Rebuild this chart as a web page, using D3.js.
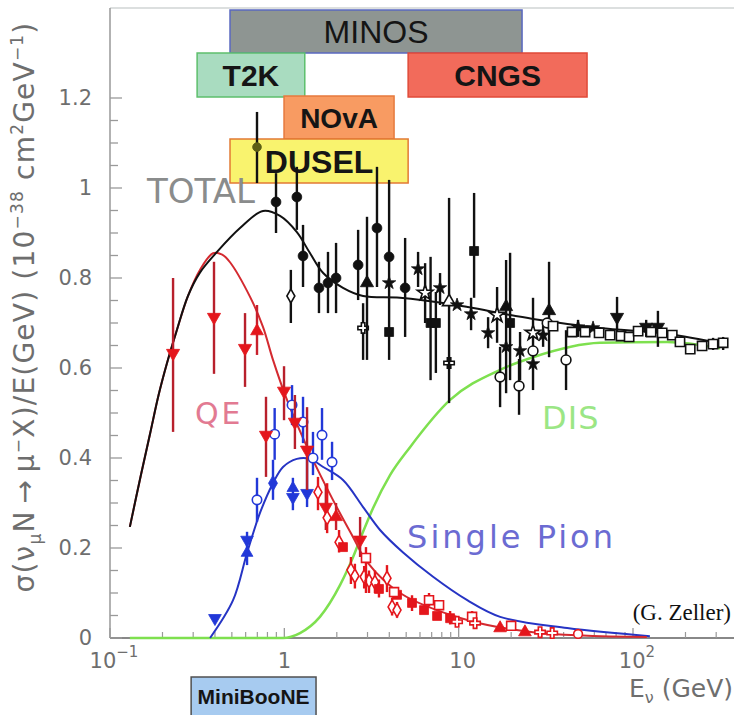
<!DOCTYPE html>
<html>
<head>
<meta charset="utf-8">
<script src="https://cdn.jsdelivr.net/npm/d3@7/dist/d3.min.js"></script>
<style>
  html, body { margin: 0; padding: 0; background: #fff; }
  svg { display: block; }
</style>
</head>
<body>
<svg id="chart" width="734" height="715"></svg>
<script>
// ━━━━━━━━━━━━━━━━━━━━━━━━━━━━━━━━━━━━━━━━━━━━━━━━━━━━━━━━━━━━━━━━━━━━━━━━━━━━━━
// Data: nu_mu CC cross section / E  (E in GeV, sigma in 1e-38 cm2/GeV) ////////
// points are [E, sigma, errLow, errHigh]
// ━━━━━━━━━━━━━━━━━━━━━━━━━━━━━━━━━━━━━━━━━━━━━━━━━━━━━━━━━━━━━━━━━━━━━━━━━━━━━━

const totalCurve = [[0.13,0.247],[0.15,0.36],[0.17,0.455],[0.19,0.54],[0.212,0.61],[0.24,0.68],
  [0.28,0.76],[0.328,0.812],[0.411,0.858],[0.557,0.911],[0.755,0.949],[0.945,0.938],[1.18,0.902],
  [1.40,0.856],[1.67,0.811],[2.17,0.778],[2.83,0.760],[4.61,0.756],[8.93,0.742],[26.7,0.709],
  [64.8,0.689],[157,0.676],[329,0.653]];

const qeCurve = [[0.13,0.247],[0.15,0.36],[0.17,0.455],[0.19,0.54],[0.212,0.61],[0.24,0.68],
  [0.28,0.76],[0.328,0.818],[0.390,0.855],[0.44,0.852],[0.488,0.835],[0.636,0.758],[0.755,0.691],
  [0.861,0.618],[1.036,0.529],[1.40,0.411],[1.90,0.307],[2.48,0.224],[2.98,0.169],[4.61,0.10],
  [11.2,0.040],[26.7,0.013],[120,0.002]];

const pionCurve = [[0.375,0],[0.508,0.084],[0.611,0.189],[0.725,0.278],[0.861,0.344],[0.983,0.380],
  [1.18,0.398],[1.40,0.398],[1.67,0.380],[2.17,0.351],[2.83,0.291],[3.54,0.24],[4.80,0.19],
  [7.13,0.136],[11.2,0.084],[17.3,0.047],[41.9,0.022],[125,0.004]];

const disCurve = [[0.13,0],[0.983,0],[1.23,0.011],[1.60,0.047],[2.09,0.118],[2.48,0.180],[2.83,0.236],
  [3.23,0.289],[4.04,0.362],[5.26,0.424],[8.93,0.529],[17.28,0.596],[26.7,0.624],[64.8,0.656],
  [157,0.658],[316,0.644]];

// total (black)
const totOlive = [[0.697,1.091,1.011,1.169]];
const totCircles = [[0.896,0.969,0.900,1.033],[1.18,0.980,0.907,1.047],[1.28,0.849,0.780,0.918],
  [1.58,0.778,0.722,0.836],[1.78,0.789,0.722,0.858],[1.98,0.800,0.722,0.878],[2.65,0.829,0.751,0.907],
  [3.40,0.911,0.780,1.047],[3.99,0.847,0.618,1.018],[4.93,0.778,0.669,0.889]];
const totDiamondsOpen = [[1.09,0.760,0.700,0.818]];
const totCrossOpen = [[2.83,0.689,0.618,0.744],[8.81,0.611]];
const totTriUp = [[2.98,0.789,0.618,0.936],[18.71,0.736,0.544,0.840],[33.0,0.727,0.624,0.836]];
const totTriOpen = [[8.81,0.747,0.522,0.978]];
const totSquares = [[3.99,0.680],[6.9,0.700,0.573,0.847],[7.4,0.700,0.589,0.769],[12.26,0.860,0.756,0.989],
  [19.72,0.700,0.573,0.856]];
const totStars = [[3.99,0.789],[5.85,0.820,0.780,0.858],[7.82,0.778,0.740,0.811],[9.79,0.740],
  [11.78,0.720,0.684,0.756],[14.75,0.678,0.644,0.713],[18.71,0.647],[22.5,0.638,0.573,0.680],
  [26.7,0.609],[30.5,0.673,0.647,0.700],[48.4,0.691,0.669,0.707],[59.0,0.689]];
const totStarsOpen = [[6.42,0.767,0.700,0.833],[16.61,0.718,0.656,0.780],[26.7,0.678,0.551,0.756]];
const totCirclesOpen = [[17.28,0.58,0.513,0.647],[22.2,0.56,0.496,0.62],[41.3,0.618,0.551,0.684],
  [26.7,0.638],[32.2,0.700]];
const totTriDown = [[81.0,0.713,0.662,0.758],[119,0.691,0.669,0.707],[139,0.691,0.647,0.727]];
const totSquaresOpen = [[34.8,0.693],[44.7,0.680],[53.1,0.680],[63.9,0.678],[73.9,0.673],[85.4,0.671],
  [95.0,0.669],[107,0.682],[127,0.680],[147,0.678],[168,0.673],[186,0.658],[213,0.642],[249,0.649],
  [288,0.653,0.640,0.667],[329,0.656,0.640,0.669]];

// quasi-elastic (red)
const qeTriDown = [[0.230,0.633,0.458,0.800],[0.395,0.713,0.587,0.836],[0.595,0.644,0.558,0.722],
  [0.996,0.549,0.484,0.604],[0.785,0.451,0.358,0.536],[1.15,0.48,0.42,0.54],[1.35,0.418,0.329,0.513],
  [1.73,0.291,0.24,0.34],[2.72,0.218,0.18,0.269]];
const qeTriUp = [[0.697,0.682,0.629,0.740],[1.98,0.269,0.24,0.30],[17.28,0.022],[24.0,0.013]];
const qeDiamondsOpen = [[1.56,0.324,0.284,0.358],[1.76,0.267,0.233,0.344],[2.06,0.213,0.19,0.24],
  [2.41,0.151,0.12,0.18],[2.54,0.138,0.11,0.165],[2.87,0.136,0.11,0.16],[3.06,0.127,0.10,0.15],
  [3.31,0.124,0.10,0.15],[3.88,0.133,0.102,0.162],[4.15,0.069,0.05,0.09],[4.43,0.062,0.045,0.08]];
const qeSquares = [[2.17,0.202],[3.49,0.109,0.09,0.13],[4.43,0.096],[5.40,0.078,0.06,0.095],[6.33,0.062],
  [7.52,0.049],[8.93,0.044,0.03,0.06]];
const qeSquaresOpen = [[2.94,0.178,0.10,0.202],[4.26,0.102],[6.76,0.084,0.07,0.10],[7.72,0.073],
  [11.94,0.047,0.035,0.06],[20.0,0.027]];
const qeCrossOpen = [[9.79,0.036],[12.42,0.033],[29.3,0.013],[34.4,0.011]];
const qeCirclesOpen = [[48.4,0.009]];

// single pion (blue)
const piTriDown = [[0.400,0.044],[0.611,0.218,0.162,0.236],[1.12,0.313,0.284,0.356],[1.35,0.322,0.291,0.40]];
const piTriUp = [[0.611,0.189],[1.12,0.333]];
const piDiamonds = [[0.861,0.344,0.307,0.396]];
const piCirclesOpen = [[0.697,0.307,0.258,0.356],[0.88,0.453,0.396,0.511],[1.107,0.518,0.473,0.562],
  [1.28,0.48,0.433,0.536],[1.46,0.40,0.362,0.458],[1.645,0.451,0.396,0.511],[1.878,0.391,0.351,0.436]];

// experiments and their energy ranges
const experiments = ['MINOS', 'T2K', 'CNGS', 'NOvA', 'DUSEL', 'MiniBooNE'];
const expLow  = [0.488, 0.316, 5.13, 0.996, 0.488, 0.292];
const expHigh = [23.1, 1.31, 54.5, 4.26, 5.13, 1.52];

const yMajor = [0, 0.2, 0.4, 0.6, 0.8, 1, 1.2];
const yMajorLabels = ['0', '0.2', '0.4', '0.6', '0.8', '1', '1.2'];
const xMajor = [0.1, 1, 10, 100];
const xMajorBase = ['10', '1', '10', '10'];
const xMajorExp = ['\u22121', '', '', '2'];

// ━━━━━━━━━━━━━━━━━━━━━━━━━━━━━━━━━━━━━━━━━━━━━━━━━━━━━━━━━━━━━━━━━━━━━━━━━━━━━━
// Scales ///////////////////////////////////////////////////////////////////////
// ━━━━━━━━━━━━━━━━━━━━━━━━━━━━━━━━━━━━━━━━━━━━━━━━━━━━━━━━━━━━━━━━━━━━━━━━━━━━━━

const svg = d3.select('#chart');
const x = d3.scaleLog().domain([0.1, 100]).range([110, 633]);
const y = d3.scaleLinear().domain([0, 1.2]).range([638, 98]);
const xEnd = 734;
const yTop = y(1.4);
const sans = 'DejaVu Sans, Verdana, sans-serif';
const arial = 'Liberation Sans, Arial, sans-serif';

// ━━━━━━━━━━━━━━━━━━━━━━━━━━━━━━━━━━━━━━━━━━━━━━━━━━━━━━━━━━━━━━━━━━━━━━━━━━━━━━
// Frame and axes ///////////////////////////////////////////////////////////////
// ━━━━━━━━━━━━━━━━━━━━━━━━━━━━━━━━━━━━━━━━━━━━━━━━━━━━━━━━━━━━━━━━━━━━━━━━━━━━━━

svg.append('line').attr('x1', x(0.1)).attr('x2', xEnd).attr('y1', yTop).attr('y2', yTop)
  .attr('stroke', '#d0d4d4').attr('stroke-width', 1.5);
svg.append('line').attr('x1', x(0.1)).attr('x2', x(0.1)).attr('y1', yTop).attr('y2', y(0))
  .attr('stroke', '#999').attr('stroke-width', 1.5);
svg.append('line').attr('x1', x(0.1)).attr('x2', xEnd).attr('y1', y(0)).attr('y2', y(0))
  .attr('stroke', '#888').attr('stroke-width', 2);

const yMinor = d3.range(0, 1.2001, 0.05);
svg.append('g').selectAll('line').data(yMinor).join('line')
  .attr('x1', x(0.1)).attr('x2', d => x(0.1) + (yMajor.some(m => Math.abs(m - d) < 1e-6) ? 12 : 8))
  .attr('y1', d => y(d)).attr('y2', d => y(d))
  .attr('stroke', '#999').attr('stroke-width', 1.3);

svg.append('g').selectAll('text').data(yMajor).join('text')
  .attr('x', x(0.1) - 18).attr('y', d => y(d)).attr('dy', '0.35em')
  .attr('text-anchor', 'end')
  .attr('font-family', sans).attr('font-size', 21).attr('fill', '#6e6e6e')
  .text((d, i) => yMajorLabels[i]);

const xMinor = [];
[-1, 0, 1, 2].forEach(n => d3.range(2, 10).forEach(k => {
  const v = k * Math.pow(10, n);
  if (x(v) < xEnd) xMinor.push(v);
}));
svg.append('g').selectAll('line').data(xMinor).join('line')
  .attr('x1', d => x(d)).attr('x2', d => x(d)).attr('y1', y(0)).attr('y2', y(0) - 6)
  .attr('stroke', '#999').attr('stroke-width', 1.2);
svg.append('g').selectAll('line').data(xMajor).join('line')
  .attr('x1', d => x(d)).attr('x2', d => x(d)).attr('y1', y(0)).attr('y2', y(0) - 10)
  .attr('stroke', '#999').attr('stroke-width', 1.3);

const xLab = svg.append('g').selectAll('text').data(xMajor).join('text')
  .attr('x', d => x(d) + (d === 1 ? 0 : 4)).attr('y', y(0) + 30)
  .attr('text-anchor', 'middle')
  .attr('font-family', sans).attr('font-size', 21).attr('fill', '#6e6e6e');
xLab.append('tspan').text((d, i) => xMajorBase[i]);
xLab.append('tspan').attr('dy', -11).attr('font-size', 15).text((d, i) => xMajorExp[i]);

// axis titles
const xt = svg.append('text').attr('x', xEnd - 1).attr('y', y(0) + 59).attr('text-anchor', 'end')
  .attr('font-family', sans).attr('font-size', 25).attr('fill', '#6e6e6e');
xt.append('tspan').text('E');
xt.append('tspan').attr('dy', 6).attr('font-size', 16).text('\u03bd');
xt.append('tspan').attr('dy', -6).text(' (GeV)');

const yt = svg.append('text').attr('transform', `translate(34, 307) rotate(-90)`)
  .attr('text-anchor', 'middle').attr('letter-spacing', 1.2)
  .attr('font-family', sans).attr('font-size', 28).attr('fill', '#6e6e6e');
[['\u03c3(\u03bd', 0, 28], ['\u03bc', 7, 17], ['N\u2009\u2192\u2009\u03bc', -7, 28], ['\u2212', -10, 17],
 ['X)/E(GeV)  (10', 10, 28], ['\u221238', -11, 17], [' cm', 11, 28], ['2', -11, 17], ['GeV', 11, 28],
 ['\u22121', -11, 17], [')', 11, 28]].forEach(([t, dy, fs]) => {
  yt.append('tspan').attr('dy', dy).attr('font-size', fs).text(t);
});

// ━━━━━━━━━━━━━━━━━━━━━━━━━━━━━━━━━━━━━━━━━━━━━━━━━━━━━━━━━━━━━━━━━━━━━━━━━━━━━━
// Experiment boxes /////////////////////////////////////////////////////////////
// ━━━━━━━━━━━━━━━━━━━━━━━━━━━━━━━━━━━━━━━━━━━━━━━━━━━━━━━━━━━━━━━━━━━━━━━━━━━━━━

const expStyle = {
  'MINOS':     { top: 10,  bottom: 53,  fill: '#8e9592', stroke: '#5a68c0', size: 32, weight: 'normal' },
  'T2K':       { top: 53,  bottom: 97,  fill: '#a9dcc0', stroke: '#5dbf6c', size: 30, weight: 'bold' },
  'CNGS':      { top: 53,  bottom: 97,  fill: '#f26b5b', stroke: '#e04a38', size: 30, weight: 'bold' },
  'NOvA':      { top: 96,  bottom: 139, fill: '#f89b62', stroke: '#e67a3e', size: 28, weight: 'bold' },
  'DUSEL':     { top: 139, bottom: 183, fill: '#f9f36e', stroke: '#e27a34', size: 32, weight: 'bold' },
  'MiniBooNE': { top: 677, bottom: 720, fill: '#a7cbf0', stroke: '#505050', size: 21, weight: 'bold' }
};

const boxes = svg.append('g').selectAll('g').data(experiments).join('g');
boxes.append('rect')
  .attr('x', (d, i) => x(expLow[i])).attr('width', (d, i) => x(expHigh[i]) - x(expLow[i]))
  .attr('y', d => expStyle[d].top).attr('height', d => expStyle[d].bottom - expStyle[d].top)
  .attr('fill', d => expStyle[d].fill).attr('stroke', d => expStyle[d].stroke).attr('stroke-width', 1.5);
boxes.append('text')
  .attr('x', (d, i) => (x(expLow[i]) + x(expHigh[i])) / 2)
  .attr('y', d => d === 'MiniBooNE' ? 696 : (expStyle[d].top + expStyle[d].bottom) / 2)
  .attr('dy', '0.36em').attr('text-anchor', 'middle')
  .attr('font-family', arial).attr('font-size', d => expStyle[d].size)
  .attr('font-weight', d => expStyle[d].weight).attr('fill', '#151515')
  .text(d => d);

// ━━━━━━━━━━━━━━━━━━━━━━━━━━━━━━━━━━━━━━━━━━━━━━━━━━━━━━━━━━━━━━━━━━━━━━━━━━━━━━
// Curves ///////////////////////////////////////////////////////////////////////
// ━━━━━━━━━━━━━━━━━━━━━━━━━━━━━━━━━━━━━━━━━━━━━━━━━━━━━━━━━━━━━━━━━━━━━━━━━━━━━━

const smooth = d3.line().x(d => x(d[0])).y(d => y(d[1])).curve(d3.curveCatmullRom.alpha(0.5));
const mono = d3.line().x(d => x(d[0])).y(d => y(d[1])).curve(d3.curveMonotoneX);
[[disCurve, mono, '#7ee04f', 2.5], [pionCurve, smooth, '#2634c4', 2], [qeCurve, smooth, '#d42a30', 2],
 [totalCurve, smooth, '#111', 2]]
  .forEach(([data, gen, color, w]) => {
    svg.append('path').datum(data).attr('d', gen)
      .attr('fill', 'none').attr('stroke', color).attr('stroke-width', w);
  });

// labels
const labels = [
  { text: 'TOTAL', E: 0.163, s: 0.967, color: '#8a8c8c', size: 34, spacing: 0 },
  { text: 'QE', E: 0.307, s: 0.476, color: '#e27a92', size: 30, spacing: 3 },
  { text: 'DIS', E: 30.1, s: 0.465, color: '#9be685', size: 32, spacing: 1 },
  { text: 'Single Pion', E: 5.06, s: 0.20, color: '#6b6bd2', size: 32, spacing: 3 }
];
svg.append('g').selectAll('text').data(labels).join('text')
  .attr('x', d => x(d.E)).attr('y', d => y(d.s))
  .attr('font-family', sans).attr('font-size', d => d.size)
  .attr('letter-spacing', d => d.spacing).attr('fill', d => d.color)
  .text(d => d.text);

svg.append('text').attr('x', 731).attr('y', 620).attr('text-anchor', 'end')
  .attr('font-family', 'Liberation Serif, Times New Roman, serif').attr('font-size', 23)
  .attr('fill', '#111').text('(G. Zeller)');

// ━━━━━━━━━━━━━━━━━━━━━━━━━━━━━━━━━━━━━━━━━━━━━━━━━━━━━━━━━━━━━━━━━━━━━━━━━━━━━━
// Data points //////////////////////////////////////////////////////////////////
// ━━━━━━━━━━━━━━━━━━━━━━━━━━━━━━━━━━━━━━━━━━━━━━━━━━━━━━━━━━━━━━━━━━━━━━━━━━━━━━

const shapes = {
  circle: d3.symbolCircle, triUp: d3.symbolTriangle, triDown: d3.symbolTriangle,
  square: d3.symbolSquare, diamond: d3.symbolDiamond, star: d3.symbolStar, cross: d3.symbolCross
};

function drawPoints(data, shape, color, open, size, barColor) {
  const g = svg.append('g');
  g.selectAll('line').data(data.filter(d => d.length > 2)).join('line')
    .attr('x1', d => x(d[0])).attr('x2', d => x(d[0]))
    .attr('y1', d => y(d[2])).attr('y2', d => y(d[3]))
    .attr('stroke', barColor || color).attr('stroke-width', 2.4);
  g.selectAll('path').data(data).join('path')
    .attr('transform', d => `translate(${x(d[0])},${y(d[1])})` + (shape === 'triDown' ? ' rotate(180)' : ''))
    .attr('d', d3.symbol(shapes[shape], size))
    .attr('fill', open ? '#fff' : color)
    .attr('stroke', color).attr('stroke-width', open ? 1.6 : 0.8);
}

// blue
drawPoints(piCirclesOpen, 'circle', '#2238d8', true, 70);
drawPoints(piTriDown, 'triDown', '#2238d8', false, 70);
drawPoints(piTriUp, 'triUp', '#2238d8', false, 60);
drawPoints(piDiamonds, 'diamond', '#2238d8', false, 70);

// red
drawPoints(qeTriDown, 'triDown', '#e4161c', false, 75, '#b8202c');
drawPoints(qeTriUp, 'triUp', '#e4161c', false, 70, '#c8202c');
drawPoints(qeDiamondsOpen, 'diamond', '#e4161c', true, 55);
drawPoints(qeSquares, 'square', '#e4161c', false, 80);
drawPoints(qeSquaresOpen, 'square', '#e4161c', true, 80);
drawPoints(qeCrossOpen, 'cross', '#e4161c', true, 60);
drawPoints(qeCirclesOpen, 'circle', '#e4161c', true, 60);

// black
drawPoints(totOlive, 'circle', '#5c5e14', false, 60, '#111');
drawPoints(totCircles, 'circle', '#111', false, 75);
drawPoints(totDiamondsOpen, 'diamond', '#111', true, 55);
drawPoints(totCrossOpen, 'cross', '#111', true, 60);
drawPoints(totTriUp, 'triUp', '#111', false, 75);
drawPoints(totTriOpen, 'triUp', '#111', true, 75);
drawPoints(totSquares, 'square', '#111', false, 80);
drawPoints(totStars, 'star', '#111', false, 55);
drawPoints(totStarsOpen, 'star', '#111', true, 75);
drawPoints(totCirclesOpen, 'circle', '#111', true, 75);
drawPoints(totTriDown, 'triDown', '#111', false, 75);
drawPoints(totSquaresOpen, 'square', '#111', true, 85);
</script>
</body>
</html>
